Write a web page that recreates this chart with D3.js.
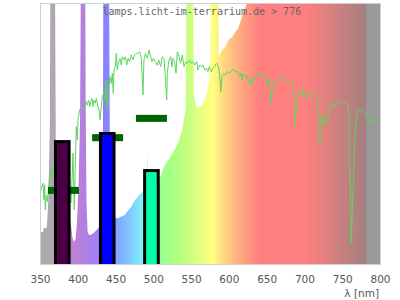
<!DOCTYPE html>
<html><head><meta charset="utf-8">
<script src="https://cdn.jsdelivr.net/npm/d3@7"></script>
<style>html,body{margin:0;padding:0;background:#fff;}svg{display:block;}</style>
</head><body>
<svg id="chart" width="400" height="300"></svg>
<script>
// ---- DATA ----
const tickNm = [350,400,450,500,550,600,650,700,750,800];
// lamp emission spectrum (relative, % of plot height; >100 = clipped)
const lampNm  = [350,354,355,359,361,363,364,369.5,371,375,380,385,389,391,393,395,397,399,401,403,404.5,409.5,410.5,411.5,413,415,417,421,427,430,433,434,441,443,448,451,454,462,471,475.5,479,481,487,491,492,493,500,508.5,515,521.5,528,532.5,536,538.5,541,543,544,552.5,553.5,555,557,558.5,563.5,568,572,574,575.5,576,585.5,586.5,590.5,595.5,599.5,604.5,608.5,612,616,620.5,624.5,630,800];
const lampVal = [12.3,12.3,13.8,13.8,24.5,52.1,130,130,40,20,14,14,18,15,10,8.5,9.5,16,30,55,130,130,60,24,12.4,11.1,11.1,11.9,13.7,14.5,16,130,130,18,17.5,17.5,17.6,18.8,22,24.4,25.7,26.4,27.9,29,43,29.5,31,32.8,37.7,40.7,43.8,46.2,49.4,51.3,56.3,60,130,130,66.4,62.5,60.3,59.8,60.6,62.8,66.7,70.5,78,130,130,79.4,82,83.3,85.8,87,89,90,93.5,97.3,100.5,120,120];
// daylight reference spectrum
const sunNm  = [350.9,351.7,354.0,355.3,356.2,357.0,358.3,359.7,361.5,362.8,365.0,366.3,367.9,372,380,388,391.0,392.4,393.7,395.4,396.7,398.0,399.4,400.3,402.5,403.9,409.2,411.3,412.6,414.5,415.8,417.1,418.8,420.1,421.5,423.2,424.5,426.8,428.1,429.4,431.1,432.5,434.3,436.0,437.4,438.7,440.0,441.3,442.6,444.4,445.7,447.0,447.9,449.7,451.0,452.3,454.2,455.9,457.6,458.9,461.2,462.9,464.8,466.5,468.7,470.8,473.1,475.3,478.0,479.7,481.9,484.1,486.3,487.6,489.4,492.0,494.3,496.5,498.2,500.0,502.6,505.2,507.1,509.7,511.5,514.1,516.4,517.7,518.5,520.7,523.0,524.7,526.0,528.3,530.0,531.7,534.0,536.2,538.3,540.6,542.8,544.9,548.1,550.2,552.5,554.7,557.4,559.1,561.4,563.5,565.7,568.0,570.1,572.3,574.1,576.7,579.0,581.2,583.3,585.6,587.8,589.2,590.9,592.6,595.3,597.9,601.1,604.1,607.7,611.1,612.1,614.3,615.6,617.4,618.7,620.9,623.0,625.3,627.5,628.9,630.6,632.8,635.0,636.8,638.5,640.8,642.9,645.1,647.4,649.5,650.9,652.7,654.4,656.1,657.5,659.8,662.7,665.0,667.2,669.4,671.6,674.7,678.2,681.8,684.9,686.2,687.9,689.2,691.5,693.7,695.8,698.1,700.3,702.5,704.7,707.0,709.1,712.6,714.9,717.0,718.0,719.3,720.6,722.3,723.6,725.0,726.8,728.9,731.2,733.4,735.6,737.8,740.0,742.2,744.4,746.7,748.8,752.4,755.4,757.6,759.0,759.4,760.3,761.2,762.0,763.3,764.7,766.0,767.3,769.2,770.9,774.5,777.5,781.9,785.0,788.5,789.8,793.0,795.1,797.4,799.6];
const sunVal = [27.7,29.0,30.9,24.5,30.3,20.7,26.4,23.9,29.0,32.8,36.0,34.1,36.8,36,38,30,23.4,32.2,42.5,20.7,37.3,52.6,47.5,55.2,59.0,59.7,59.7,62.2,60.9,62.8,60.3,62.2,63.5,60.3,62.8,61.6,63.5,60.3,59.0,55.2,60.3,64.1,65.4,62.8,70.5,59.0,68.6,67.9,71.8,69.2,73.1,65.4,74.3,75.6,80.7,74.3,77.5,78.8,76.2,79.4,78.2,79.4,76.2,78.8,77.5,80.1,78.2,80.1,80.7,80.7,81.3,78.8,64.8,78.2,80.7,78.8,82.0,79.4,77.5,78.8,77.5,76.2,78.2,75.6,79.4,78.8,69.2,62.8,73.1,78.2,79.4,75.6,78.8,77.5,73.1,81.3,79.4,76.9,80.1,75.6,77.5,76.9,78.2,76.9,77.5,76.2,77.5,74.3,76.2,75.6,76.2,74.3,75.0,73.7,75.6,73.7,75.0,75.6,76.9,76.2,72.4,65.9,71.8,73.1,72.4,73.7,73.1,74.3,74.1,73.7,73.7,71.8,73.1,70.5,73.1,71.8,72.4,69.8,70.5,68.6,71.1,69.8,72.4,71.8,73.1,72.4,73.1,71.8,72.4,70.5,67.9,71.1,67.3,60.9,66.7,69.8,69.2,70.5,71.1,71.8,70.8,70.5,69.8,69.8,68.6,62.8,53.3,60.3,63.5,66.1,64.8,67.0,64.1,63.5,66.1,65.4,66.1,65.4,64.8,62.2,55.2,48.8,46.2,53.9,57.7,53.3,55.8,53.9,55.2,60.9,60.3,61.6,60.3,61.6,62.2,61.8,62.2,61.6,61.8,60.9,56.4,37.3,34.1,24.5,7.9,19.4,30.9,44.3,52.0,57.7,58.6,59.0,58.4,57.7,57.1,56.4,54.5,54.9,54.1,55.2,54.5];
// bars (center nm, value) and target markers
const barNm  = [379.5, 439, 497.5];
const barVal = [46.9, 50.0, 35.8];
const markNm  = [381, 439.5, 497.5];
const markVal = [28.2, 48.4, 55.8];
const titleText = "lamps.licht-im-terrarium.de > 776";
const axisTitle = "λ [nm]";

// ---- STYLE ----
const barColors = ["#4b0049", "#0000ff", "#00ffa8"];
const spectrumStops = [[350,'#b0a8b0'],[366,'#b0a8b0'],[372,'#b4a0bc'],[385,'#c080d0'],[400,'#bc80d8'],[408,'#b080e0'],[418,'#a880f0'],[428,'#a080ff'],[437,'#8880ff'],[450,'#80a0ff'],[465,'#80c0ff'],[480,'#80e4ff'],[492,'#80ffe8'],[500,'#88ffb8'],[510,'#98ff90'],[530,'#b0ff80'],[547,'#c8ff80'],[560,'#e0ff80'],[572,'#f8ff80'],[580,'#ffff80'],[590,'#ffe080'],[600,'#ffc880'],[612,'#ffb080'],[625,'#ff9880'],[640,'#ff8080'],[700,'#ff8080'],[720,'#ec8080'],[740,'#d28080'],[760,'#bc8080'],[781,'#a38080'],[781.5,'#999999'],[800,'#999999']];

const svg = d3.select("#chart");
const L = 40, R = 380, T = 3, B = 264;
const x = d3.scaleLinear().domain([350, 800]).range([L, R]);
const y = d3.scaleLinear().domain([0, 100]).range([B, T]);

const defs = svg.append("defs");
defs.append("clipPath").attr("id", "plot").append("rect")
  .attr("x", L).attr("y", T).attr("width", R - L).attr("height", B - T);
const grad = defs.append("linearGradient").attr("id", "spec")
  .attr("gradientUnits", "userSpaceOnUse")
  .attr("x1", x(350)).attr("x2", x(800)).attr("y1", 0).attr("y2", 0);
spectrumStops.forEach(s => grad.append("stop")
  .attr("offset", (s[0] - 350) / 450).attr("stop-color", s[1]));

const g = svg.append("g").attr("clip-path", "url(#plot)");

// lamp spectrum area
const lamp = lampNm.map((n, i) => [n, lampVal[i]]);
g.append("path").datum(lamp)
  .attr("fill", "url(#spec)")
  .attr("d", d3.area().x(d => x(d[0])).y0(y(0)).y1(d => y(d[1])));

// daylight line
const sun = sunNm.map((n, i) => [n, sunVal[i]]);
g.append("path").datum(sun)
  .attr("fill", "none").attr("stroke", "#5cd65c").attr("stroke-width", 1)
  .attr("d", d3.line().x(d => x(d[0])).y(d => y(d[1])));

// markers
g.selectAll("rect.mark").data(markNm).enter().append("rect")
  .attr("class", "mark")
  .attr("x", d => x(d - 20.5)).attr("width", d => x(d + 20.5) - x(d - 20.5))
  .attr("y", (d, i) => y(markVal[i]) - 3.5).attr("height", 7)
  .attr("fill", "#006400");

// bars
g.selectAll("rect.bar").data(barNm).enter().append("rect")
  .attr("class", "bar")
  .attr("x", d => x(d - 9)).attr("width", d => x(d + 9) - x(d - 9))
  .attr("y", (d, i) => y(barVal[i])).attr("height", (d, i) => y(0) - y(barVal[i]) + 4)
  .attr("fill", (d, i) => barColors[i])
  .attr("stroke", "#000").attr("stroke-width", 3);

// frame
svg.append("rect").attr("x", L + 0.5).attr("y", T + 0.5)
  .attr("width", R - L).attr("height", B - T)
  .attr("fill", "none").attr("stroke", "#d0d0d0").attr("stroke-width", 1);

// watermark
svg.append("text").attr("x", 102.5).attr("y", 14.5)
  .attr("font-family", "DejaVu Sans Mono").attr("font-size", 10)
  .attr("fill", "#666").text(titleText);

// x axis
const ax = svg.append("g").attr("transform", `translate(0,${B})`)
  .call(d3.axisBottom(x).tickValues(tickNm).tickSize(0).tickPadding(12).tickFormat(d3.format("d")));
ax.select(".domain").remove();
ax.selectAll("text").attr("font-family", "DejaVu Sans").attr("font-size", 10.5).attr("fill", "#555");

svg.append("text").attr("x", 379).attr("y", 297).attr("text-anchor", "end")
  .attr("font-family", "DejaVu Sans").attr("font-size", 10.5).attr("fill", "#555")
  .text(axisTitle);
</script>
</body></html>
